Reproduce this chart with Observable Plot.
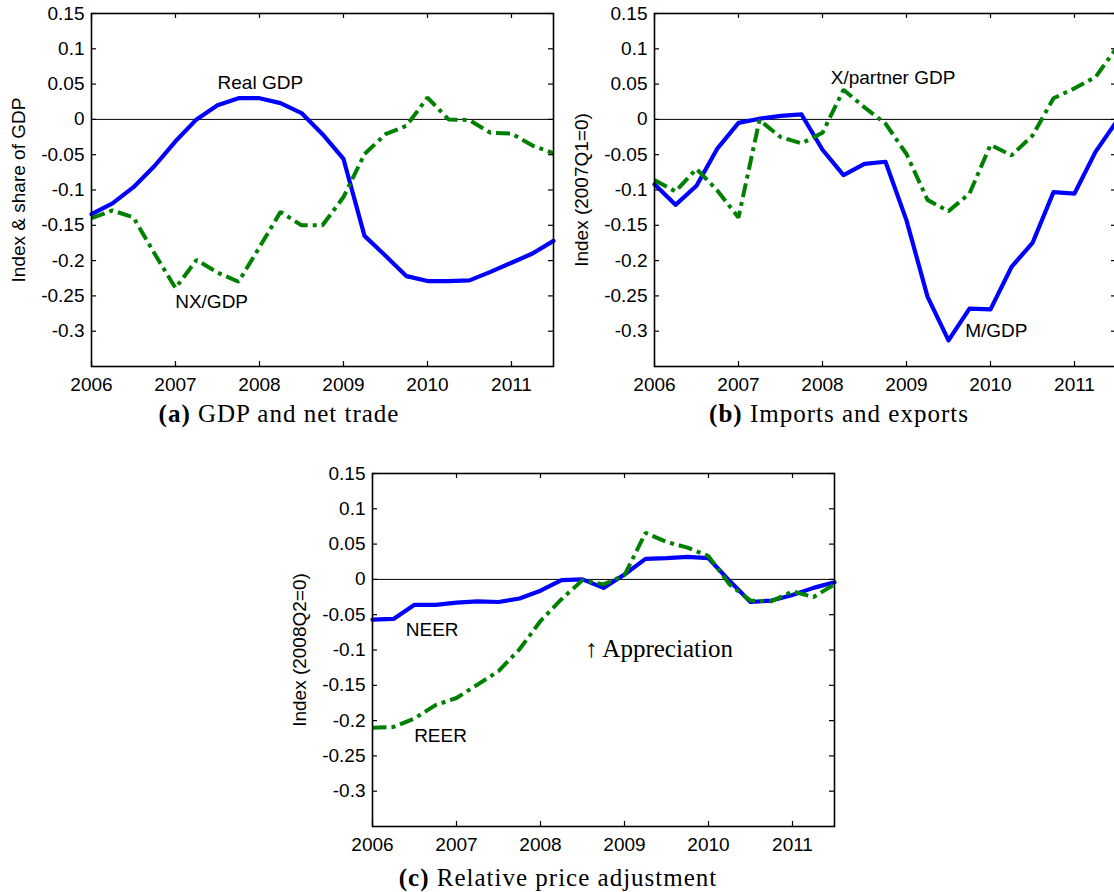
<!DOCTYPE html>
<html><head><meta charset="utf-8">
<script src="https://cdn.jsdelivr.net/npm/d3@7"></script>
<script src="https://cdn.jsdelivr.net/npm/@observablehq/plot@0.6"></script>
<style>
html,body{margin:0;padding:0;background:#fff;}
#page{position:relative;width:1114px;height:892px;overflow:hidden;background:#fff;}
#page svg{position:absolute;}
.ylab{position:absolute;font-family:"Liberation Sans",Arial,sans-serif;font-size:19px;white-space:nowrap;color:#000;transform:translate(-50%,-50%) rotate(-90deg);}
.cap{position:absolute;font-family:"Liberation Serif","Times New Roman",serif;font-size:25px;letter-spacing:1px;white-space:nowrap;color:#000;transform:translateX(-50%);line-height:1;}
</style></head><body><div id="page"></div>
<script>
// ---------- data ----------
const quarters = [2006, 2006.25, 2006.5, 2006.75, 2007, 2007.25, 2007.5, 2007.75,
  2008, 2008.25, 2008.5, 2008.75, 2009, 2009.25, 2009.5, 2009.75,
  2010, 2010.25, 2010.5, 2010.75, 2011, 2011.25, 2011.5];
const realGDP = [-0.134, -0.119, -0.096, -0.066, -0.031, 0.000, 0.020, 0.030, 0.030, 0.023, 0.009, -0.021,
  -0.056, -0.165, -0.193, -0.222, -0.229, -0.229, -0.228, -0.216, -0.203, -0.190, -0.172];
const nxGDP = [-0.140, -0.129, -0.139, -0.190, -0.239, -0.199, -0.217, -0.230, -0.181, -0.131, -0.150, -0.150,
  -0.110, -0.049, -0.021, -0.009, 0.031, 0.000, -0.001, -0.019, -0.020, -0.037, -0.048];
const mGDP = [-0.092, -0.121, -0.094, -0.041, -0.005, 0.001, 0.005, 0.007, -0.043, -0.079, -0.063, -0.060,
  -0.143, -0.251, -0.313, -0.268, -0.269, -0.209, -0.175, -0.103, -0.105, -0.046, -0.003];
const xGDP = [-0.086, -0.102, -0.070, -0.101, -0.139, -0.001, -0.025, -0.034, -0.019, 0.042, 0.017, -0.006,
  -0.049, -0.114, -0.130, -0.105, -0.036, -0.051, -0.023, 0.030, 0.044, 0.060, 0.101];
const neer = [-0.057, -0.056, -0.036, -0.036, -0.033, -0.031, -0.032, -0.027, -0.016, -0.001, 0.000, -0.012,
  0.007, 0.029, 0.030, 0.032, 0.030, -0.002, -0.032, -0.030, -0.022, -0.012, -0.004];
const reer = [-0.210, -0.209, -0.197, -0.178, -0.168, -0.149, -0.130, -0.099, -0.059, -0.028, -0.001, -0.007,
  0.006, 0.066, 0.053, 0.045, 0.033, -0.007, -0.030, -0.031, -0.017, -0.025, -0.007];

const xTicks = [2006, 2007, 2008, 2009, 2010, 2011];
const xTickLabels = ["2006", "2007", "2008", "2009", "2010", "2011"];
const yTicks = [0.15, 0.1, 0.05, 0, -0.05, -0.1, -0.15, -0.2, -0.25, -0.3];
const yTickLabels = ["0.15", "0.1", "0.05", "0", "-0.05", "-0.1", "-0.15", "-0.2", "-0.25", "-0.3"];
const xDomain = [2006, 2011.5];
const yDomain = [-0.35, 0.15];

// annotation labels (data coordinates)
const labelsA = [{t: 2008.01, v: 0.051, text: "Real GDP"}, {t: 2007.43, v: -0.259, text: "NX/GDP"}];
const labelsB = [{t: 2008.84, v: 0.059, text: "X/partner GDP"}, {t: 2010.07, v: -0.300, text: "M/GDP"}];
const labelsC = [{t: 2006.71, v: -0.072, text: "NEER"}, {t: 2006.81, v: -0.221, text: "REER"}];
const noteC = [{t: 2009.41, v: -0.099, text: "↑ Appreciation"}];

const captions = [
  {tag: "(a)", text: "GDP and net trade"},
  {tag: "(b)", text: "Imports and exports"},
  {tag: "(c)", text: "Relative price adjustment"}
];
const yLabels = ["Index & share of GDP", "Index (2007Q1=0)", "Index (2008Q2=0)"];

// ---------- drawing ----------
const BLUE = "#0000ff", GREEN = "#008000";
const W = 462, H = 353, mL = 95, mR = 12, mT = 12, mB = 40;
const page = document.getElementById("page");

function table(vals) { return quarters.map((t, i) => ({t, v: vals[i]})); }

function panel({solid, dashed, labels, note, frameLeft, frameTop, yLabel, caption, capX, capTop}) {
  const marks = [
    Plot.ruleY([0], {stroke: "black", strokeWidth: 1}),
    Plot.line(table(solid), {x: "t", y: "v", stroke: BLUE, strokeWidth: 4.2, strokeLinejoin: "round"}),
    Plot.line(table(dashed), {x: "t", y: "v", stroke: GREEN, strokeWidth: 4, strokeDasharray: "14,5,4,5", strokeLinecap: "butt", strokeLinejoin: "miter"}),
    Plot.text(labels, {x: "t", y: "v", text: "text", fill: "black", fontSize: 19, textAnchor: "middle"}),
    // inward ticks on all four sides
    Plot.ruleX(xTicks, {x: d => d, insetTop: H - 5, stroke: "black", strokeWidth: 1.2}),
    Plot.ruleX(xTicks, {x: d => d, insetBottom: H - 5, stroke: "black", strokeWidth: 1.2}),
    Plot.ruleY(yTicks, {y: d => d, insetRight: W - 5, stroke: "black", strokeWidth: 1.2}),
    Plot.ruleY(yTicks, {y: d => d, insetLeft: W - 5, stroke: "black", strokeWidth: 1.2}),
    Plot.axisX(xTicks, {tickSize: 0, tickPadding: 11, label: null, tickFormat: d => xTickLabels[xTicks.indexOf(d)]}),
    Plot.axisY(yTicks, {tickSize: 0, tickPadding: 7, label: null, tickFormat: d => yTickLabels[yTicks.indexOf(d)]}),
    Plot.frame({stroke: "black", strokeWidth: 1.6})
  ];
  if (note) marks.push(Plot.text(note, {x: "t", y: "v", text: "text", fill: "black", fontSize: 25, textAnchor: "middle",
    fontFamily: "'Liberation Serif', 'DejaVu Serif', serif", letterSpacing: 1}));
  const svg = Plot.plot({
    width: mL + W + mR, height: mT + H + mB,
    marginLeft: mL, marginRight: mR, marginTop: mT, marginBottom: mB,
    x: {domain: xDomain, label: null},
    y: {domain: yDomain, label: null},
    style: {fontFamily: "'Liberation Sans', Arial, Helvetica, sans-serif", fontSize: "19px", color: "black", background: "transparent", overflow: "visible"},
    marks
  });
  svg.style.left = (frameLeft - mL) + "px";
  svg.style.top = (frameTop - mT) + "px";
  page.appendChild(svg);

  const yl = document.createElement("div");
  yl.className = "ylab";
  yl.textContent = yLabel;
  yl.style.left = (frameLeft - 72) + "px";
  yl.style.top = (frameTop + H / 2) + "px";
  page.appendChild(yl);

  const cap = document.createElement("div");
  cap.className = "cap";
  const b = document.createElement("b");
  b.textContent = caption.tag;
  cap.appendChild(b);
  cap.appendChild(document.createTextNode(" " + caption.text));
  cap.style.left = capX + "px";
  cap.style.top = capTop + "px";
  page.appendChild(cap);
}

panel({solid: realGDP, dashed: nxGDP, labels: labelsA, frameLeft: 91, frameTop: 13,
  yLabel: yLabels[0], caption: captions[0], capX: 279, capTop: 401});
panel({solid: mGDP, dashed: xGDP, labels: labelsB, frameLeft: 654, frameTop: 13,
  yLabel: yLabels[1], caption: captions[1], capX: 839, capTop: 401});
panel({solid: neer, dashed: reer, labels: labelsC, note: noteC, frameLeft: 372, frameTop: 473,
  yLabel: yLabels[2], caption: captions[2], capX: 558, capTop: 865});
</script>
</body></html>
